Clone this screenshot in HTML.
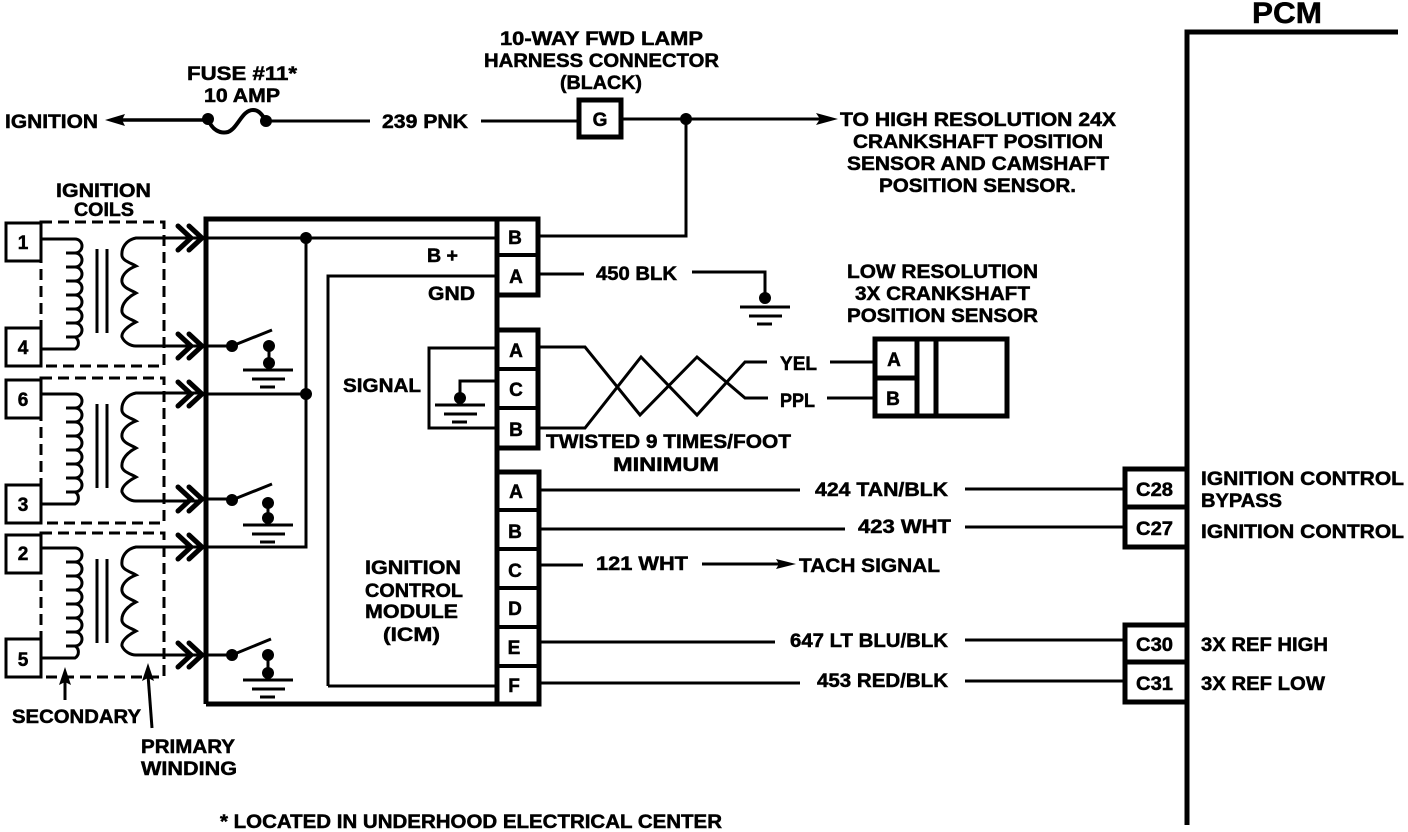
<!DOCTYPE html>
<html><head><meta charset="utf-8"><style>
html,body{margin:0;padding:0;background:#fff}
svg{display:block}
text{font-family:"Liberation Sans",sans-serif;font-weight:bold;font-size:19px;fill:#000;stroke:#000;stroke-width:.5}
.m{text-anchor:middle}
.w{fill:none;stroke:#000;stroke-width:3;stroke-linecap:butt}
.t{fill:none;stroke:#000;stroke-width:5}
.c{fill:none;stroke:#000;stroke-width:5;stroke-linecap:round;stroke-linejoin:miter}
.d{fill:none;stroke:#000;stroke-width:3;stroke-dasharray:11 6}
</style></head><body>
<svg width="1408" height="832" viewBox="0 0 1408 832" xmlns="http://www.w3.org/2000/svg">
<defs>
<path id="sec" class="w" d="M41 0H75A7 7 0 0 1 75 14H66M75 14A7 7 0 0 1 75 28H66M75 28A7 7 0 0 1 75 42H66M75 42A7 7 0 0 1 75 56H66M75 56A7 7 0 0 1 75 70H66M75 70A7 7 0 0 1 75 84H66M75 84A7 7 0 0 1 75 98H66M75 98A7 7 0 0 1 75 110H41"/>
<path id="pri" class="w" d="M200 0H136C126 2 121 10 122 18C123 23 131 25 136 28C128 31 121 37 122 44C123 50 131 52 136 55C128 59 121 66 122 74C123 79 131 81 136 84C128 88 121 94 122 99C124 104 130 108 136 108H200"/>
<g id="core"><path class="w" d="M97 0V84M107 0V84"/></g>
<path id="chev" class="c" d="M178-12L191 0L178 12M189-12L202 0L189 12"/>
<g id="gnd"><path class="w" d="M0 0H50M9 9H42M17 17H32"/></g>
</defs>

<!-- PCM -->
<text x="1252" y="23" font-size="30" textLength="70" lengthAdjust="spacingAndGlyphs" style="font-size:30px">PCM</text>
<path class="t" d="M1187 825V32H1398"/>
<g class="t"><rect class="t" x="1125" y="469" width="62" height="78"/><path class="t" d="M1125 507H1187"/>
<rect class="t" x="1125" y="625" width="62" height="77"/><path class="t" d="M1125 662H1187"/></g>
<text x="1136" y="496" textLength="37" lengthAdjust="spacingAndGlyphs">C28</text>
<text x="1136" y="535" textLength="37" lengthAdjust="spacingAndGlyphs">C27</text>
<text x="1136" y="651" textLength="37" lengthAdjust="spacingAndGlyphs">C30</text>
<text x="1136" y="690" textLength="37" lengthAdjust="spacingAndGlyphs">C31</text>
<text x="1201" y="485" textLength="203" lengthAdjust="spacingAndGlyphs">IGNITION CONTROL</text>
<text x="1201" y="507" textLength="81" lengthAdjust="spacingAndGlyphs">BYPASS</text>
<text x="1201" y="538" textLength="203" lengthAdjust="spacingAndGlyphs">IGNITION CONTROL</text>
<text x="1201" y="651" textLength="127" lengthAdjust="spacingAndGlyphs">3X REF HIGH</text>
<text x="1201" y="690" textLength="124" lengthAdjust="spacingAndGlyphs">3X REF LOW</text>

<!-- Top -->
<text x="500" y="45" textLength="203" lengthAdjust="spacingAndGlyphs">10-WAY FWD LAMP</text>
<text x="484" y="67" textLength="235" lengthAdjust="spacingAndGlyphs">HARNESS CONNECTOR</text>
<text x="560" y="89" textLength="82" lengthAdjust="spacingAndGlyphs">(BLACK)</text>
<text x="187" y="80" textLength="110" lengthAdjust="spacingAndGlyphs">FUSE #11*</text>
<text x="204" y="102" textLength="76" lengthAdjust="spacingAndGlyphs">10 AMP</text>
<text x="5" y="128" textLength="93" lengthAdjust="spacingAndGlyphs">IGNITION</text>
<path d="M105 120L125 114L122 120L125 126Z"/>
<path class="w" d="M120 120H208" style="stroke-width:3.5"/>
<circle cx="208" cy="119" r="6"/><circle cx="266" cy="121" r="6"/>
<path class="t" style="stroke-width:4" d="M208 119C212 130 220 134 228 132C238 128 242 110 253 110C260 110 262 116 267 121"/>
<path class="w" d="M266 121H370M481 121H578M622 119H825M686 119V236H540"/>
<text x="382" y="128" textLength="86" lengthAdjust="spacingAndGlyphs">239 PNK</text>
<rect class="t" x="579" y="100" width="42" height="37"/>
<text class="m" x="600" y="126">G</text>
<circle cx="686" cy="119" r="6"/>
<path d="M838 119L816 113L820 119L816 125Z"/>
<text x="840" y="126" textLength="276" lengthAdjust="spacingAndGlyphs">TO HIGH RESOLUTION 24X</text>
<text x="853" y="148" textLength="250" lengthAdjust="spacingAndGlyphs">CRANKSHAFT POSITION</text>
<text x="847" y="170" textLength="262" lengthAdjust="spacingAndGlyphs">SENSOR AND CAMSHAFT</text>
<text x="879" y="192" textLength="197" lengthAdjust="spacingAndGlyphs">POSITION SENSOR.</text>

<!-- Coils -->
<text x="56" y="197" textLength="95" lengthAdjust="spacingAndGlyphs">IGNITION</text>
<text x="74" y="216" textLength="60" lengthAdjust="spacingAndGlyphs">COILS</text>
<rect class="d" x="41" y="222" width="123" height="144"/>
<rect class="d" x="41" y="378" width="123" height="145"/>
<rect class="d" x="41" y="533" width="123" height="144"/>
<g fill="#fff" stroke="#000" stroke-width="3">
<rect x="6" y="223" width="35" height="38"/><rect x="6" y="328" width="35" height="38"/>
<rect x="6" y="380" width="35" height="38"/><rect x="6" y="485" width="35" height="38"/>
<rect x="6" y="535" width="35" height="38"/><rect x="6" y="639" width="35" height="38"/>
</g>
<text class="m" x="23" y="249">1</text><text class="m" x="23" y="354">4</text>
<text class="m" x="23" y="406">6</text><text class="m" x="23" y="511">3</text>
<text class="m" x="23" y="560">2</text><text class="m" x="23" y="666">5</text>

<use href="#sec" y="239"/><use href="#sec" y="394"/><use href="#sec" y="548"/>
<use href="#pri" y="238"/><use href="#pri" y="393"/><use href="#pri" y="547"/>
<use href="#core" y="249"/><use href="#core" y="404"/><use href="#core" y="559"/>
<use href="#chev" y="238"/><use href="#chev" y="346"/><use href="#chev" y="394"/><use href="#chev" y="499"/><use href="#chev" y="547"/><use href="#chev" y="655"/>

<!-- ICM -->
<path class="t" d="M206 704V219H538V295H497M497 217V706M206 704H539V472H497M497 330H538V448H497"/>
<path class="t" d="M497 255H538M497 369H538M497 408H538M497 510H539M497 549H539M497 588H539M497 627H539M497 666H539" style="stroke-width:4"/>
<path class="w" d="M205 238H497M306 238V547H205M205 394H306M205 346H232M205 499H232M205 655H232"/>
<circle cx="306" cy="238" r="6"/><circle cx="306" cy="394" r="6"/>
<path class="w" d="M328 686V276H497M328 686H497"/>
<text x="427" y="262" textLength="31" lengthAdjust="spacingAndGlyphs">B +</text>
<text x="428" y="300" textLength="47" lengthAdjust="spacingAndGlyphs">GND</text>
<text x="343" y="392" textLength="78" lengthAdjust="spacingAndGlyphs">SIGNAL</text>
<text x="365" y="574" textLength="96" lengthAdjust="spacingAndGlyphs">IGNITION</text>
<text x="365" y="597" textLength="98" lengthAdjust="spacingAndGlyphs">CONTROL</text>
<text x="365" y="618" textLength="93" lengthAdjust="spacingAndGlyphs">MODULE</text>
<text x="383" y="641" textLength="57" lengthAdjust="spacingAndGlyphs">(ICM)</text>
<path class="w" d="M497 348H429V428H497M497 381H460V397"/>
<circle cx="460" cy="398" r="6"/>
<use href="#gnd" x="435" y="405"/>

<!-- Switches -->
<g>
<circle cx="232" cy="346" r="6"/><path class="w" d="M232 346L272 330"/><circle cx="269" cy="346" r="6"/><circle cx="269" cy="363" r="6"/><path class="w" d="M269 346V363"/><use href="#gnd" x="243" y="370"/>
<circle cx="232" cy="500" r="6"/><path class="w" d="M232 500L272 484"/><circle cx="268" cy="503" r="6"/><circle cx="268" cy="518" r="6"/><path class="w" d="M268 503V518"/><use href="#gnd" x="243" y="525"/>
<circle cx="232" cy="655" r="6"/><path class="w" d="M232 655L271 639"/><circle cx="268" cy="655" r="6"/><circle cx="268" cy="673" r="6"/><path class="w" d="M268 655V673"/><use href="#gnd" x="243" y="680"/>
</g>

<!-- connector letters -->
<text class="m" x="515" y="244">B</text><text class="m" x="516" y="283">A</text>
<text class="m" x="516" y="357">A</text><text class="m" x="516" y="396">C</text><text class="m" x="516" y="436">B</text>
<text class="m" x="516" y="498">A</text><text class="m" x="515" y="538">B</text><text class="m" x="515" y="577">C</text><text class="m" x="515" y="615">D</text><text class="m" x="514" y="654">E</text><text class="m" x="514" y="692">F</text>

<!-- 450 BLK -->
<path class="w" d="M540 274H584M692 272H765V296"/>
<text x="596" y="280" textLength="81" lengthAdjust="spacingAndGlyphs">450 BLK</text>
<circle cx="765" cy="298" r="6"/>
<use href="#gnd" x="740" y="307"/>

<!-- Sensor -->
<text x="847" y="278" textLength="191" lengthAdjust="spacingAndGlyphs">LOW RESOLUTION</text>
<text x="855" y="300" textLength="175" lengthAdjust="spacingAndGlyphs">3X CRANKSHAFT</text>
<text x="847" y="322" textLength="191" lengthAdjust="spacingAndGlyphs">POSITION SENSOR</text>
<rect class="t" x="875" y="339" width="132" height="77"/>
<path class="t" d="M875 378H917M917 339V416M936 339V416"/>
<text class="m" x="894" y="366">A</text><text class="m" x="893" y="405">B</text>
<path class="w" d="M540 347H585L640 415L697 357L745 398H768M540 428H585L641 357L697 415L745 362H767M830 362H875M827 398H875"/>
<text x="780" y="370" textLength="37" lengthAdjust="spacingAndGlyphs">YEL</text>
<text x="780" y="407" textLength="35" lengthAdjust="spacingAndGlyphs">PPL</text>
<text x="546" y="448" textLength="245" lengthAdjust="spacingAndGlyphs">TWISTED 9 TIMES/FOOT</text>
<text x="613" y="471" textLength="106" lengthAdjust="spacingAndGlyphs">MINIMUM</text>

<!-- Lower wires -->
<path class="w" d="M540 490H800M965 489H1125M540 529H845M965 527H1125M540 565H583M702 564H780M540 642H775M965 640H1125M540 683H800M965 681H1125"/>
<path d="M796 564L776 559L779 564L776 569Z"/>
<text x="815" y="496" textLength="133" lengthAdjust="spacingAndGlyphs">424 TAN/BLK</text>
<text x="858" y="533" textLength="93" lengthAdjust="spacingAndGlyphs">423 WHT</text>
<text x="596" y="570" textLength="92" lengthAdjust="spacingAndGlyphs">121 WHT</text>
<text x="799" y="572" textLength="141" lengthAdjust="spacingAndGlyphs">TACH SIGNAL</text>
<text x="790" y="647" textLength="158" lengthAdjust="spacingAndGlyphs">647 LT BLU/BLK</text>
<text x="817" y="687" textLength="131" lengthAdjust="spacingAndGlyphs">453 RED/BLK</text>

<!-- Annotations -->
<path d="M65 667L59 685L65 682L71 685Z"/><path class="w" d="M65 680V700"/>
<path d="M148 663L142 681L148 678L154 681Z"/><path class="w" d="M148 675L152 728"/>
<text x="12" y="723" textLength="129" lengthAdjust="spacingAndGlyphs">SECONDARY</text>
<text x="141" y="753" textLength="94" lengthAdjust="spacingAndGlyphs">PRIMARY</text>
<text x="141" y="775" textLength="96" lengthAdjust="spacingAndGlyphs">WINDING</text>
<text x="220" y="828" textLength="502" lengthAdjust="spacingAndGlyphs">* LOCATED IN UNDERHOOD ELECTRICAL CENTER</text>
</svg>
</body></html>
